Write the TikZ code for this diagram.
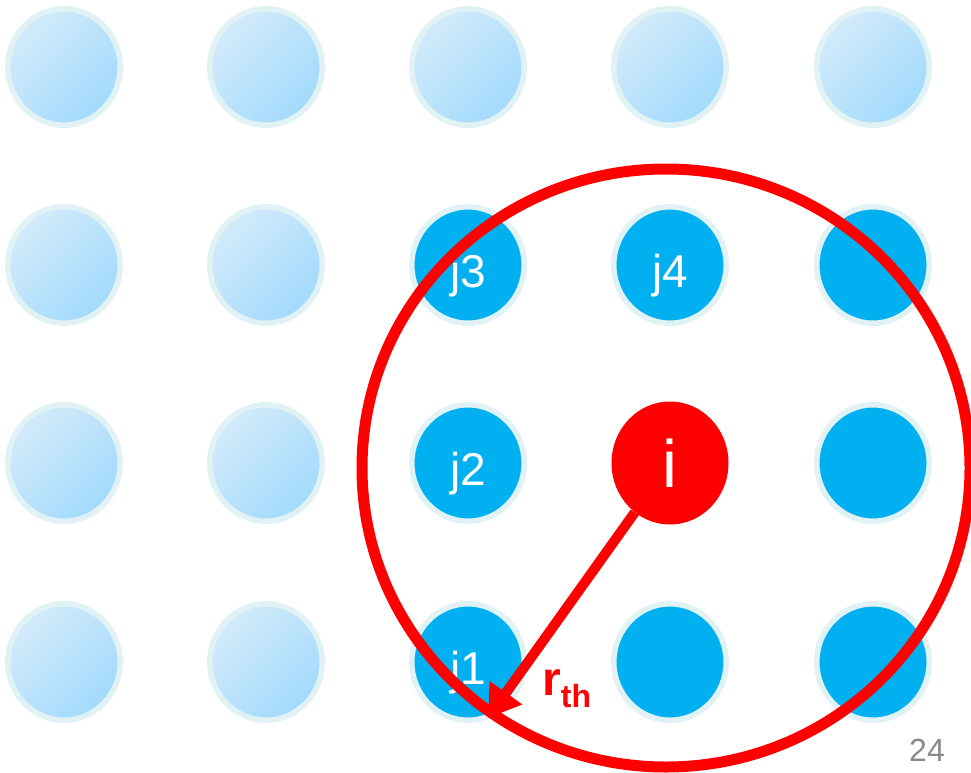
\documentclass[tikz,border=0pt]{standalone}
\usepackage{fontspec}
\setmainfont{Liberation Sans}
\usetikzlibrary{arrows.meta, shapes.geometric}

\definecolor{dotrim}{HTML}{E1F2F5}
\definecolor{dotlight}{HTML}{D3EBFB}
\definecolor{dotmid}{HTML}{A2DAFC}
\definecolor{dotfull}{HTML}{00B0F0}
\definecolor{pagegrey}{HTML}{8A8A8A}

\begin{document}
\begin{tikzpicture}[x=1pt, y=-1pt, >=Stealth]
  \tikzset{
    dot/.style={ellipse, draw=dotrim, line width=5.5pt,
      minimum width=112.5pt, minimum height=116.5pt, inner sep=0pt,
      text=white, text height=45pt, text depth=0pt,
      font=\fontsize{46}{46}\selectfont},
    faded/.style={dot, top color=dotlight, bottom color=dotmid,
      shading angle=45},
    active/.style={dot, fill=dotfull},
    centre/.style={ellipse, fill=red, minimum width=117pt,
      minimum height=123pt, inner sep=0pt, text=white,
      font=\fontsize{67}{67}\selectfont},
  }
  \useasboundingbox (0,0) rectangle (971,773);

  % faded neighbours
  \node[faded] (a1) at (64,67) {};
  \node[faded] (a2) at (266,67) {};
  \node[faded] (a3) at (468,67) {};
  \node[faded] (a4) at (670,67) {};
  \node[faded] (a5) at (873,67) {};
  \node[faded] (b1) at (64,265) {};
  \node[faded] (b2) at (266,265) {};
  \node[faded] (c1) at (64,463) {};
  \node[faded] (c2) at (266,463) {};
  \node[faded] (d1) at (64,662) {};
  \node[faded] (d2) at (266,662) {};

  % neighbours inside the threshold
  \node[active] (j3) at (468,265) {j3};
  \node[active] (j4) at (670,265) {j4};
  \node[active] (b5) at (873,265) {};
  \node[active] (j2) at (468,463) {j2};
  \node[active] (c5) at (873,463) {};
  \node[active] (j1) at (468,662) {j1};
  \node[active] (d4) at (670,662) {};
  \node[active] (d5) at (873,662) {};

  \node[centre] (i) at (670,463) {i};

  % threshold radius
  \draw[red, line width=11pt] (666,468) ellipse [x radius=304, y radius=299];
  \coordinate (rim) at (488,718);
  \draw[red, line width=10pt, -{Triangle[length=31pt, width=38pt]}]
    (i) -- (rim);
  \node[anchor=base west, text=red, inner sep=0pt,
    font=\fontsize{48}{48}\selectfont\bfseries] (rth) at (542,695)
    {r\raisebox{-12pt}{\fontsize{32}{32}\selectfont th}};

  \node[text=pagegrey, font=\fontsize{32}{32}\selectfont] (page)
    at (927,750) {24};
\end{tikzpicture}
\end{document}
